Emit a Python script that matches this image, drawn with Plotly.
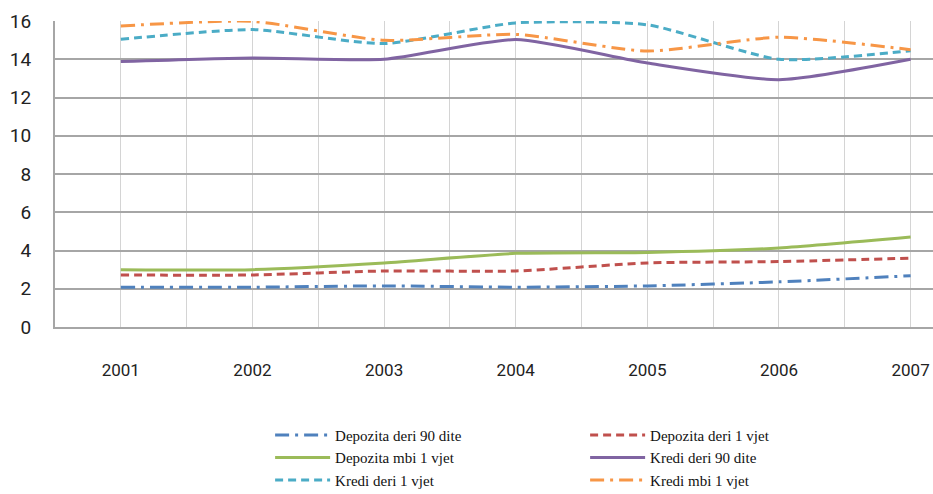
import plotly.graph_objects as go

years = [2001, 2002, 2003, 2004, 2005, 2006, 2007]
dep_90 = [2.08, 2.08, 2.15, 2.08, 2.15, 2.36, 2.68]
dep_1v = [2.72, 2.72, 2.93, 2.93, 3.35, 3.42, 3.6]
dep_mbi = [3.0, 3.0, 3.35, 3.85, 3.9, 4.13, 4.7]
kr_90 = [13.88, 14.07, 14.0, 15.03, 13.8, 12.93, 14.0]
kr_1v = [15.04, 15.55, 14.82, 15.9, 15.8, 14.0, 14.45]
kr_mbi = [15.74, 15.98, 14.99, 15.3, 14.43, 15.15, 14.5]

series = [
    ("Depozita deri 90 dite", dep_90, "#4F81BD", "14px,6px,3px,6px"),
    ("Depozita deri 1 vjet", dep_1v, "#C0504D", "8px,5px"),
    ("Depozita mbi 1 vjet", dep_mbi, "#9BBB59", "solid"),
    ("Kredi deri 90 dite", kr_90, "#8064A2", "solid"),
    ("Kredi deri 1 vjet", kr_1v, "#4BACC6", "8px,5px"),
    ("Kredi mbi 1 vjet", kr_mbi, "#F79646", "14px,6px,3px,6px"),
]

fig = go.Figure()
for name, vals, color, dash in series:
    fig.add_trace(go.Scatter(
        x=years, y=vals, name=name, mode="lines",
        line=dict(color=color, width=3, dash=dash, shape="spline", smoothing=0.6),
    ))

x_font = dict(family="Roboto, sans-serif", size=17, color="#222")
y_font = dict(family="Roboto, sans-serif", size=19, color="#222")

fig.update_layout(
    width=933, height=494,
    margin=dict(l=55, r=0, t=21, b=167, autoexpand=False),
    plot_bgcolor="white", paper_bgcolor="white",
    showlegend=True,
    legend=dict(
        orientation="h", x=0.245, y=-0.30, xanchor="left", yanchor="top",
        entrywidth=245, entrywidthmode="pixels",
        font=dict(family="Liberation Serif, Times New Roman, serif", size=15, color="#111"),
        tracegroupgap=0, itemwidth=55, bgcolor="rgba(0,0,0,0)",
    ),
    xaxis=dict(
        range=[2000.5, 2007.17], tickmode="array", tickvals=years,
        ticktext=[str(y) for y in years], tickfont=x_font,
        showgrid=True, gridcolor="#D4D4D4", gridwidth=1,
        minor=dict(dtick=0.5, tick0=2000.5, showgrid=True, gridcolor="#D4D4D4", gridwidth=1),
        showline=True, linecolor="#A6A6A6", linewidth=2,
        ticks="", ticklabelstandoff=27, zeroline=False,
    ),
    yaxis=dict(
        range=[0, 16], tickmode="array", tickvals=list(range(0, 17, 2)),
        tickfont=y_font, showgrid=True, gridcolor="#A6A6A6", gridwidth=2,
        showline=True, linecolor="#A6A6A6", linewidth=2, zeroline=False,
        ticks="", ticklabelstandoff=18,
    ),
)

fig.write_html(
    "out.html",
    config={"displayModeBar": False},
    post_script="document.body.style.margin='0';document.body.style.overflow='hidden';",
)
